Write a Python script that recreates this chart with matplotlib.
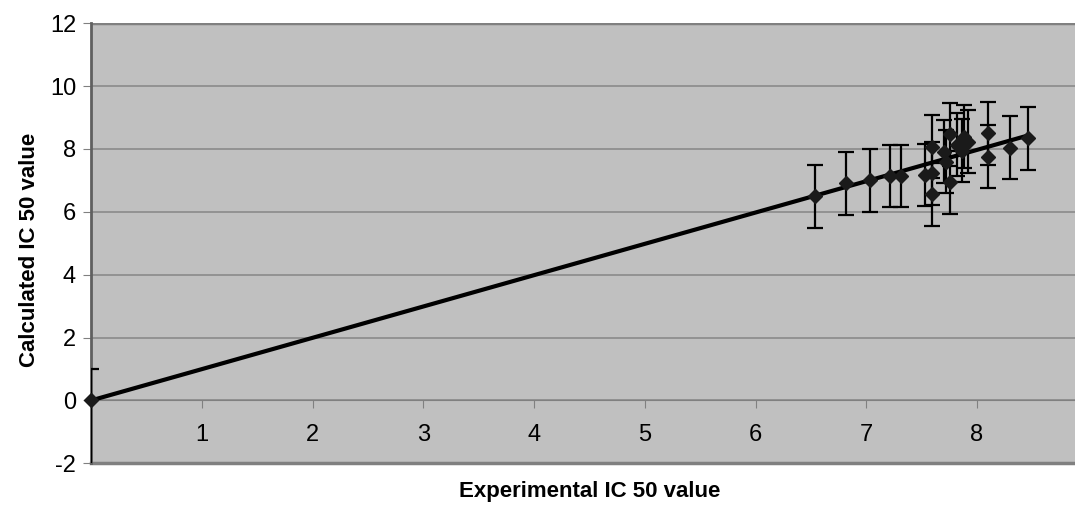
import matplotlib.pyplot as plt
import numpy as np

plt.rcParams['font.family'] = ['Liberation Sans', 'DejaVu Sans']
plt.rcParams['axes.unicode_minus'] = False

# experimental vs calculated IC50 values
exp_ic50 = [0.0, 6.54, 6.82, 7.03, 7.21, 7.31, 7.53, 7.59, 7.59, 7.59, 7.70,
            7.72, 7.76, 7.76, 7.82, 7.86, 7.88, 7.92, 8.10, 8.10, 8.30, 8.46]
calc_ic50 = [0.0, 6.50, 6.91, 7.01, 7.14, 7.14, 7.17, 8.07, 7.23, 6.56, 7.91,
             7.60, 8.47, 6.94, 8.13, 7.95, 8.39, 8.23, 8.50, 7.75, 8.04, 8.34]
err_up = [1.0] * len(exp_ic50)
err_down = [2.5] + [1.0] * (len(exp_ic50) - 1)

x_ticks = [1, 2, 3, 4, 5, 6, 7, 8]
y_ticks = [-2, 0, 2, 4, 6, 8, 10, 12]

x = np.array(exp_ic50)
y = np.array(calc_ic50)
slope = np.sum(x * y) / np.sum(x * x)  # trendline through origin

fig = plt.figure(figsize=(10.75, 5.17), dpi=100)
ax = fig.add_axes([0.085, 0.104, 0.915, 0.851])
ax.set_facecolor('#c0c0c0')

ax.set_xlim(0, 8.885)
ax.set_ylim(-2, 12)

for yt in y_ticks:
    ax.axhline(yt, color='#8a8a8a', lw=1.2, zorder=1)

ax.errorbar(x, y, yerr=[err_down, err_up], fmt='none', ecolor='black',
            elinewidth=1.6, capsize=5.5, capthick=1.6, zorder=3)
xl = np.array([0, x.max()])
ax.plot(xl, slope * xl, color='black', lw=3, zorder=4)
ax.plot(x, y, 'D', color='#1a1a1a', markersize=7.5, zorder=5, clip_on=False)

ax.spines['bottom'].set_position(('data', 0))
ax.spines['bottom'].set_color('#808080')
ax.spines['left'].set_color('#606060')
ax.spines['left'].set_linewidth(2)
ax.spines['right'].set_visible(False)
ax.spines['top'].set_visible(False)
ax.axhline(12, color='#808080', lw=2.5, zorder=2)
ax.axhline(-2, color='#808080', lw=2.5, zorder=2, clip_on=False)

ax.set_xticks(x_ticks)
ax.set_yticks(y_ticks)
ax.tick_params(axis='x', direction='out', length=6, color='#808080',
               labelsize=17, pad=11)
ax.tick_params(axis='y', direction='out', length=6, color='#808080',
               labelsize=17, pad=5)

fig.text(590 / 1075, 1 - 492 / 517, 'Experimental IC 50 value', ha='center',
         va='center', fontsize=16, fontweight='bold')
fig.text(30 / 1075, 1 - 250 / 517, 'Calculated IC 50 value', ha='center',
         va='center', rotation=90, fontsize=16, fontweight='bold')

fig.savefig('out.png', dpi=100)
